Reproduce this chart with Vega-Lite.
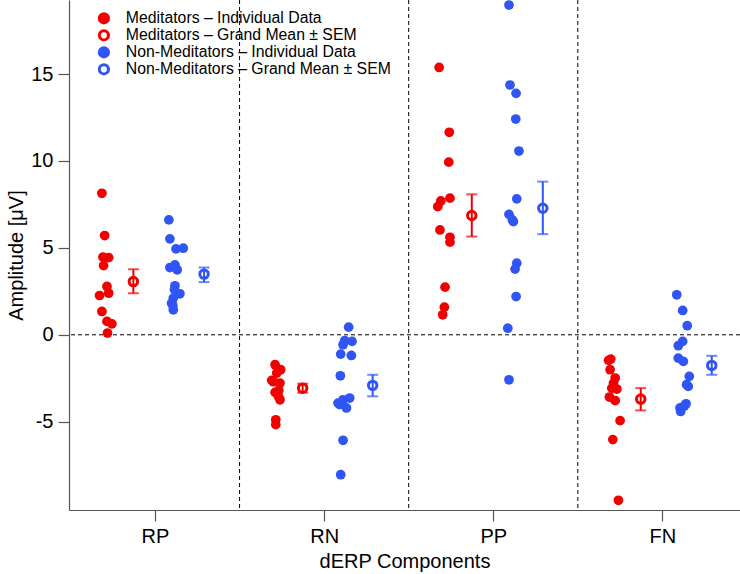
{
  "$schema": "https://vega.github.io/schema/vega-lite/v6.json",
  "width": 671,
  "height": 510,
  "autosize": {"type": "none"},
  "padding": {"left": 69, "top": 0, "right": 0, "bottom": 64},
  "background": "white",
  "config": {
    "view": {"stroke": null},
    "font": "Liberation Sans",
    "axis": {
      "grid": false,
      "domainColor": "#555555",
      "domainWidth": 1.2,
      "tickColor": "#555555",
      "tickWidth": 1.2,
      "tickSize": 11,
      "labelFontSize": 20,
      "labelColor": "black",
      "labelFont": "Liberation Sans",
      "titleFontSize": 20,
      "titleFontWeight": "normal",
      "titleColor": "black",
      "titleFont": "Liberation Sans"
    },
    "legend": {
      "orient": "none",
      "legendX": 27,
      "legendY": 10.5,
      "padding": 0,
      "labelFontSize": 15.8,
      "labelColor": "black",
      "labelFont": "Liberation Sans",
      "labelLimit": 400,
      "symbolType": "circle",
      "symbolSize": 85,
      "symbolStrokeWidth": 3,
      "symbolOpacity": 1,
      "clipHeight": 15.6,
      "rowPadding": 0,
      "labelOffset": 14
    }
  },
  "datasets": {
    "indiv": [
      {"series": "MI", "x": 0.686, "y": 8.14}, {"series": "MI", "x": 0.702, "y": 5.71}, {"series": "MI", "x": 0.692, "y": 4.47},
      {"series": "MI", "x": 0.726, "y": 4.44}, {"series": "MI", "x": 0.696, "y": 3.98}, {"series": "MI", "x": 0.716, "y": 2.78},
      {"series": "MI", "x": 0.672, "y": 2.26}, {"series": "MI", "x": 0.726, "y": 2.39}, {"series": "MI", "x": 0.686, "y": 1.34},
      {"series": "MI", "x": 0.716, "y": 0.77}, {"series": "MI", "x": 0.745, "y": 0.63}, {"series": "MI", "x": 0.719, "y": 0.10},
      {"series": "NI", "x": 1.082, "y": 6.61}, {"series": "NI", "x": 1.088, "y": 5.52}, {"series": "NI", "x": 1.124, "y": 4.94},
      {"series": "NI", "x": 1.167, "y": 4.98}, {"series": "NI", "x": 1.088, "y": 3.87}, {"series": "NI", "x": 1.131, "y": 3.74},
      {"series": "NI", "x": 1.118, "y": 4.02}, {"series": "NI", "x": 1.118, "y": 2.82}, {"series": "NI", "x": 1.147, "y": 2.36},
      {"series": "NI", "x": 1.108, "y": 2.11}, {"series": "NI", "x": 1.098, "y": 1.82}, {"series": "NI", "x": 1.108, "y": 1.44},
      {"series": "NI", "x": 1.115, "y": 2.6}, {"series": "NI", "x": 1.105, "y": 1.7},
      {"series": "MI", "x": 1.710, "y": -1.72}, {"series": "MI", "x": 1.743, "y": -2.01}, {"series": "MI", "x": 1.690, "y": -2.62},
      {"series": "MI", "x": 1.739, "y": -2.78}, {"series": "MI", "x": 1.710, "y": -3.31}, {"series": "MI", "x": 1.739, "y": -3.74},
      {"series": "MI", "x": 1.729, "y": -3.54}, {"series": "MI", "x": 1.714, "y": -4.89}, {"series": "MI", "x": 1.714, "y": -5.17},
      {"series": "MI", "x": 1.720, "y": -2.2}, {"series": "MI", "x": 1.700, "y": -2.7}, {"series": "MI", "x": 1.732, "y": -3.2},
      {"series": "NI", "x": 2.145, "y": 0.44}, {"series": "NI", "x": 2.122, "y": -0.33}, {"series": "NI", "x": 2.165, "y": -0.38},
      {"series": "NI", "x": 2.112, "y": -0.57}, {"series": "NI", "x": 2.098, "y": -1.11}, {"series": "NI", "x": 2.161, "y": -1.19},
      {"series": "NI", "x": 2.096, "y": -2.36}, {"series": "NI", "x": 2.112, "y": -3.74}, {"series": "NI", "x": 2.151, "y": -3.64},
      {"series": "NI", "x": 2.092, "y": -4.02}, {"series": "NI", "x": 2.132, "y": -4.21}, {"series": "NI", "x": 2.082, "y": -3.93},
      {"series": "NI", "x": 2.112, "y": -6.07}, {"series": "NI", "x": 2.098, "y": -8.05},
      {"series": "MI", "x": 2.680, "y": 15.38}, {"series": "MI", "x": 2.740, "y": 11.65}, {"series": "MI", "x": 2.737, "y": 9.93},
      {"series": "MI", "x": 2.744, "y": 7.86}, {"series": "MI", "x": 2.690, "y": 7.70}, {"series": "MI", "x": 2.672, "y": 7.37},
      {"series": "MI", "x": 2.685, "y": 6.03}, {"series": "MI", "x": 2.744, "y": 5.61}, {"series": "MI", "x": 2.744, "y": 5.33},
      {"series": "MI", "x": 2.715, "y": 2.74}, {"series": "MI", "x": 2.711, "y": 1.59}, {"series": "MI", "x": 2.701, "y": 1.15},
      {"series": "NI", "x": 3.093, "y": 18.97}, {"series": "NI", "x": 3.099, "y": 14.37}, {"series": "NI", "x": 3.135, "y": 13.89},
      {"series": "NI", "x": 3.133, "y": 12.41}, {"series": "NI", "x": 3.152, "y": 10.57}, {"series": "NI", "x": 3.139, "y": 7.82},
      {"series": "NI", "x": 3.093, "y": 6.93}, {"series": "NI", "x": 3.119, "y": 6.51}, {"series": "NI", "x": 3.113, "y": 6.61},
      {"series": "NI", "x": 3.139, "y": 4.12}, {"series": "NI", "x": 3.129, "y": 3.78}, {"series": "NI", "x": 3.135, "y": 2.20},
      {"series": "NI", "x": 3.086, "y": 0.38}, {"series": "NI", "x": 3.093, "y": -2.59},
      {"series": "MI", "x": 3.695, "y": -1.40}, {"series": "MI", "x": 3.682, "y": -1.47}, {"series": "MI", "x": 3.691, "y": -2.01},
      {"series": "MI", "x": 3.721, "y": -2.49}, {"series": "MI", "x": 3.711, "y": -2.78}, {"series": "MI", "x": 3.701, "y": -3.07},
      {"series": "MI", "x": 3.731, "y": -3.12}, {"series": "MI", "x": 3.687, "y": -3.58}, {"series": "MI", "x": 3.721, "y": -3.79},
      {"series": "MI", "x": 3.750, "y": -4.94}, {"series": "MI", "x": 3.707, "y": -6.03}, {"series": "MI", "x": 3.740, "y": -9.52},
      {"series": "NI", "x": 4.085, "y": 2.30}, {"series": "NI", "x": 4.120, "y": 1.40}, {"series": "NI", "x": 4.147, "y": 0.52},
      {"series": "NI", "x": 4.120, "y": -0.38}, {"series": "NI", "x": 4.094, "y": -0.63}, {"series": "NI", "x": 4.094, "y": -1.34},
      {"series": "NI", "x": 4.124, "y": -1.53}, {"series": "NI", "x": 4.159, "y": -2.39}, {"series": "NI", "x": 4.153, "y": -2.97},
      {"series": "NI", "x": 4.143, "y": -2.87}, {"series": "NI", "x": 4.140, "y": -3.97}, {"series": "NI", "x": 4.104, "y": -4.21},
      {"series": "NI", "x": 4.108, "y": -4.41}, {"series": "NI", "x": 4.130, "y": -4.10}
    ],
    "means": [
      {"series": "MM", "x": 0.872, "y": 3.06, "lo": 2.39, "hi": 3.77},
      {"series": "NM", "x": 1.290, "y": 3.49, "lo": 3.03, "hi": 3.87},
      {"series": "MM", "x": 1.873, "y": -3.07, "lo": -3.33, "hi": -2.81},
      {"series": "NM", "x": 2.287, "y": -2.91, "lo": -3.54, "hi": -2.30},
      {"series": "MM", "x": 2.873, "y": 6.86, "lo": 5.65, "hi": 8.08},
      {"series": "NM", "x": 3.293, "y": 7.28, "lo": 5.79, "hi": 8.81},
      {"series": "MM", "x": 3.872, "y": -3.70, "lo": -4.35, "hi": -3.07},
      {"series": "NM", "x": 4.292, "y": -1.76, "lo": -2.30, "hi": -1.21}
    ],
    "dividers": [{"x": 1.5}, {"x": 2.5}, {"x": 3.5}]
  },
  "layer": [
    {
      "data": {"name": "dividers"},
      "mark": {"type": "rule", "color": "black", "strokeDash": [4, 3], "strokeWidth": 1},
      "encoding": {
        "x": {"field": "x", "type": "quantitative", "scale": {"domain": [0.4914, 4.459], "nice": false, "zero": false}, "title": "dERP Components"}
      }
    },
    {
      "data": {"values": [{"v": 0}]},
      "mark": {"type": "rule", "color": "black", "strokeDash": [4, 3], "strokeWidth": 1},
      "encoding": {
        "y": {"field": "v", "type": "quantitative", "scale": {"domain": [-10.08, 19.26], "nice": false, "zero": false}, "title": "Amplitude [μV]"}
      }
    },
    {
      "data": {"name": "indiv"},
      "mark": {"type": "circle", "size": 95, "opacity": 1, "strokeWidth": 0},
      "encoding": {
        "x": {
          "field": "x", "type": "quantitative",
          "scale": {"domain": [0.4914, 4.459], "nice": false, "zero": false},
          "title": "dERP Components",
          "axis": {"values": [1, 2, 3, 4], "labelExpr": "datum.value == 1 ? 'RP' : datum.value == 2 ? 'RN' : datum.value == 3 ? 'PP' : 'FN'", "labelPadding": 5, "titlePadding": 5}
        },
        "y": {
          "field": "y", "type": "quantitative",
          "scale": {"domain": [-10.08, 19.26], "nice": false, "zero": false},
          "title": "Amplitude [μV]",
          "axis": {"values": [-5, 0, 5, 10, 15], "labelExpr": "replace(datum.label, '−', '-')", "labelPadding": 5, "titlePadding": 4}
        },
        "fill": {
          "field": "series", "type": "nominal",
          "scale": {"domain": ["MI", "MM", "NI", "NM"], "range": ["#f20000", "white", "#2f55f4", "white"]},
          "legend": {"title": null, "labelExpr": "datum.label == 'MI' ? 'Meditators – Individual Data' : datum.label == 'MM' ? 'Meditators – Grand Mean ± SEM' : datum.label == 'NI' ? 'Non-Meditators – Individual Data' : 'Non-Meditators – Grand Mean ± SEM'"}
        },
        "stroke": {
          "field": "series", "type": "nominal",
          "scale": {"domain": ["MI", "MM", "NI", "NM"], "range": ["#f20000", "#f20000", "#2f55f4", "#2f55f4"]},
          "legend": {"title": null, "labelExpr": "datum.label == 'MI' ? 'Meditators – Individual Data' : datum.label == 'MM' ? 'Meditators – Grand Mean ± SEM' : datum.label == 'NI' ? 'Non-Meditators – Individual Data' : 'Non-Meditators – Grand Mean ± SEM'"}
        }
      }
    },
    {
      "data": {"name": "means"},
      "mark": {"type": "point", "shape": "circle", "size": 72, "strokeWidth": 3, "opacity": 1},
      "encoding": {
        "x": {"field": "x", "type": "quantitative", "scale": {"domain": [0.4914, 4.459], "nice": false, "zero": false}, "title": "dERP Components"},
        "y": {"field": "y", "type": "quantitative", "scale": {"domain": [-10.08, 19.26], "nice": false, "zero": false}, "title": "Amplitude [μV]"},
        "fill": {
          "field": "series", "type": "nominal",
          "scale": {"domain": ["MI", "MM", "NI", "NM"], "range": ["#f20000", "white", "#2f55f4", "white"]},
          "legend": {"title": null, "labelExpr": "datum.label == 'MI' ? 'Meditators – Individual Data' : datum.label == 'MM' ? 'Meditators – Grand Mean ± SEM' : datum.label == 'NI' ? 'Non-Meditators – Individual Data' : 'Non-Meditators – Grand Mean ± SEM'"}
        },
        "stroke": {
          "field": "series", "type": "nominal",
          "scale": {"domain": ["MI", "MM", "NI", "NM"], "range": ["#f20000", "#f20000", "#2f55f4", "#2f55f4"]},
          "legend": {"title": null, "labelExpr": "datum.label == 'MI' ? 'Meditators – Individual Data' : datum.label == 'MM' ? 'Meditators – Grand Mean ± SEM' : datum.label == 'NI' ? 'Non-Meditators – Individual Data' : 'Non-Meditators – Grand Mean ± SEM'"}
        }
      }
    },
    {
      "data": {"name": "means"},
      "mark": {"type": "errorbar", "thickness": 2, "ticks": {"size": 11}},
      "encoding": {
        "x": {"field": "x", "type": "quantitative", "scale": {"domain": [0.4914, 4.459], "nice": false, "zero": false}, "title": "dERP Components"},
        "y": {"field": "lo", "type": "quantitative", "scale": {"domain": [-10.08, 19.26], "nice": false, "zero": false}, "title": "Amplitude [μV]"},
        "y2": {"field": "hi"},
        "color": {"field": "series", "type": "nominal", "scale": {"domain": ["MM", "NM"], "range": ["#f20000", "#2f55f4"]}, "legend": null}
      }
    }
  ]
}
